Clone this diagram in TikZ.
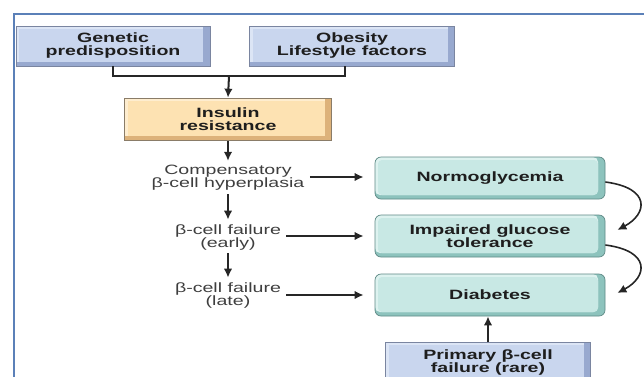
\documentclass[tikz,border=0pt]{standalone}
\usepackage{fontspec}
\setmainfont{Liberation Sans}[FakeStretch=1.45]
\usetikzlibrary{arrows.meta,positioning,calc}

\definecolor{framecol}{HTML}{5B80B8}
\definecolor{factorface}{HTML}{C9D6EE}
\definecolor{factorlight}{HTML}{DCE5F5}
\definecolor{factorside}{HTML}{98A9CF}
\definecolor{factorline}{HTML}{7A85A0}
\definecolor{insface}{HTML}{FDE2B2}
\definecolor{inslight}{HTML}{FEEDCF}
\definecolor{insside}{HTML}{DDB27A}
\definecolor{insline}{HTML}{8A7C68}
\definecolor{stageface}{HTML}{C8E8E4}
\definecolor{stagelight}{HTML}{DDF2EF}
\definecolor{stageside}{HTML}{8DC3BD}
\definecolor{stageline}{HTML}{5E8985}
\definecolor{boxtext}{HTML}{1E1E1E}
\definecolor{labeltext}{HTML}{3E3E3E}

\begin{document}
\begin{tikzpicture}[
    x=1pt, y=-1pt,
    font=\fontsize{13.5}{13}\selectfont,
    bevel/.style 2 args={path picture={
        \fill[#1] ([shift={(0pt,4pt)}]path picture bounding box.south west) rectangle ([shift={(-7pt,0pt)}]path picture bounding box.north east);
        \fill[#2] ([shift={(3pt,4pt)}]path picture bounding box.south west) rectangle ([shift={(-7pt,-3pt)}]path picture bounding box.north east);}},
    factor/.style={rectangle, draw=factorline, fill=factorside, line width=0.7pt, minimum width=194pt, minimum height=40pt, align=center, text=boxtext, font=\fontsize{13.5}{13}\selectfont\bfseries, bevel={factorlight}{factorface}},
    insulin/.style={factor, draw=insline, fill=insside, minimum width=207pt, minimum height=42pt, bevel={inslight}{insface}},
    stage/.style={factor, draw=stageline, fill=stageside, rounded corners=6pt, minimum width=230pt, minimum height=42pt,
        path picture={
        \fill[stagelight, rounded corners=5pt] ([shift={(0pt,4pt)}]path picture bounding box.south west) rectangle ([shift={(-7pt,0pt)}]path picture bounding box.north east);
        \fill[stageface, rounded corners=4pt] ([shift={(3pt,4pt)}]path picture bounding box.south west) rectangle ([shift={(-7pt,-3pt)}]path picture bounding box.north east);}},
    cellstep/.style={align=center, text=labeltext},
    line/.style={draw=black!85, line width=2pt},
    arrow/.style={line, -{Latex[length=9pt,width=8.5pt]}}
]
\useasboundingbox (0,0) rectangle (644,376);

% Frame
\draw[framecol, line width=1.8pt] (14,380) -- (14,14) -- (648,14);

% Causes
\node[factor] (genetic) at (113,46) {Genetic\\predisposition};
\node[factor, minimum width=205pt] (obesity) at (352,46) {Obesity\\Lifestyle factors};
\node[insulin] (insulin) at (228,119) {Insulin\\resistance};

% Beta-cell course
\node[cellstep] (comp) at (228,178) {Compensatory\\β-cell hyperplasia};
\node[cellstep] (early) at (228,237) {β-cell failure\\(early)};
\node[cellstep] (late) at (228,295) {β-cell failure\\(late)};

% Glycemic state
\node[stage] (normo) at (490,178) {Normoglycemia};
\node[stage] (igt) at (490,236) {Impaired glucose\\tolerance};
\node[stage] (diab) at (490,295) {Diabetes};
\node[factor, minimum width=205pt] (primary) at (488,362) {Primary β-cell\\failure (rare)};

% Connect lines
\coordinate (join) at (229,76);
\draw[line] (genetic.south) |- (join) -| ([xshift=-7pt]obesity.south);
\draw[arrow] (join) -- (insulin.north);
\draw[arrow, shorten <=1pt, shorten >=1pt] (insulin.south) -- (comp.north);
\draw[arrow, shorten >=1pt] (comp.south) -- (early.north);
\draw[arrow, shorten >=1pt] (early.south) -- (late.north);
\draw[arrow, shorten <=2pt, shorten >=11pt] ([yshift=1pt]comp.east) -- ([yshift=1pt]comp.east -| normo.west);
\draw[arrow, shorten <=2pt, shorten >=11pt] ([yshift=1pt]early.east) -- ([yshift=1pt]early.east -| igt.west);
\draw[arrow, shorten <=2pt, shorten >=11pt] (late.east) -- (late.east -| diab.west);
\draw[arrow] (primary.north) -- ([xshift=-2pt]diab.south);
\draw[arrow, line width=1.6pt] ([yshift=-4pt]normo.east) .. controls +(46,6) and +(30,-16) .. ([shift={(12pt,6pt)}]igt.east);
\draw[arrow, line width=1.6pt] ([yshift=-9pt]igt.east) .. controls +(46,6) and +(30,-16) .. ([shift={(12pt,2pt)}]diab.east);

\end{tikzpicture}
\end{document}
